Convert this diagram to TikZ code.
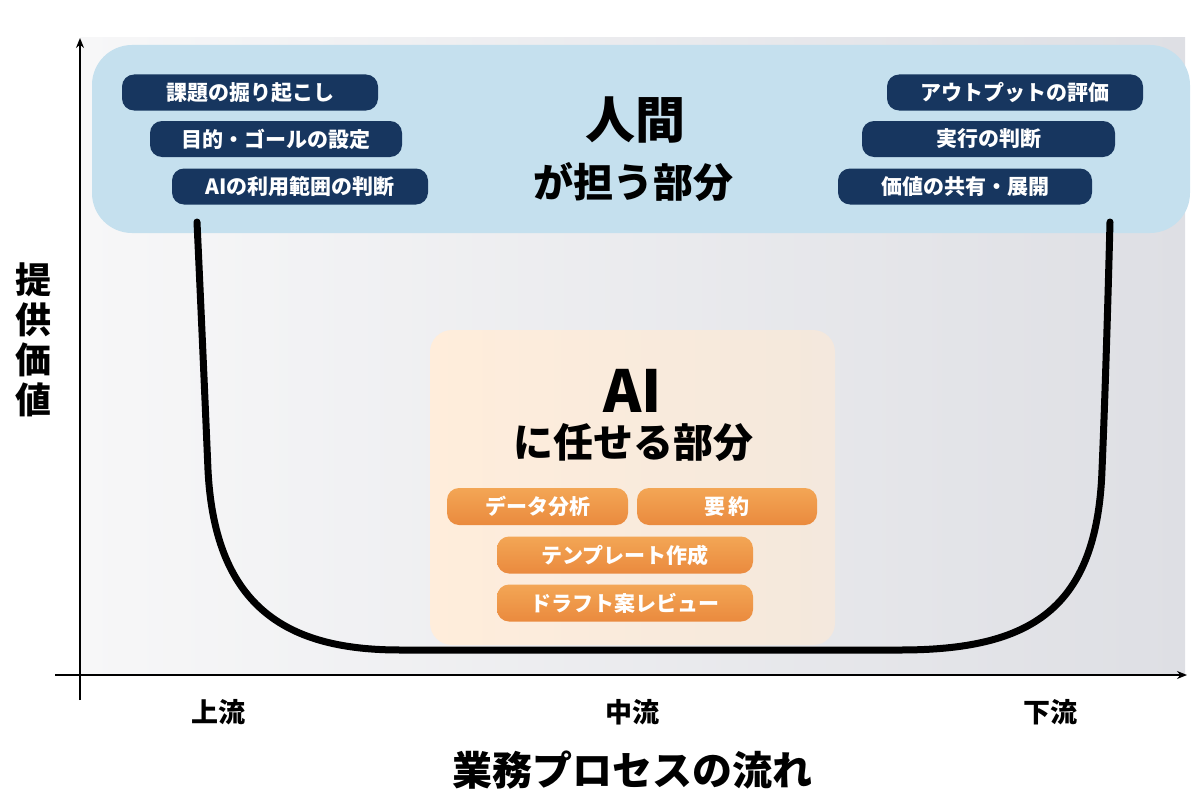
\documentclass[tikz,border=0pt]{standalone}
\usepackage{fontspec}
\setmainfont{Noto Sans CJK JP}
\usetikzlibrary{arrows.meta}
\definecolor{navy}{HTML}{17365F}
\definecolor{skyb}{HTML}{C5E0EE}
\definecolor{otop}{HTML}{F3A655}
\definecolor{obot}{HTML}{EA8A3E}
\definecolor{bgl}{HTML}{F7F7F8}
\definecolor{bgr}{HTML}{DEDFE4}
\tikzset{
 dpill/.style={fill=navy,text=white,rounded corners=12pt,minimum height=36pt,font=\bfseries\fontsize{21}{21}\selectfont,inner sep=0pt},
 opill/.style={top color=otop,bottom color=obot,text=white,rounded corners=12pt,minimum height=37pt,font=\bfseries\fontsize{21}{21}\selectfont,inner sep=0pt},
 axlab/.style={font=\bfseries\fontsize{27}{27}\selectfont}
}
\begin{document}
\begin{tikzpicture}[x=1pt,y=-1pt]
\useasboundingbox (0,0) rectangle (1200,800);
\shade[left color=bgl,right color=bgr] (80,38) rectangle (1185,675);
\fill[skyb,rounded corners=40pt] (92,45) rectangle (1190,233);
\node[dpill,minimum width=256pt] (h1) at (250,92.5) {課題の掘り起こし};
\node[dpill,minimum width=252pt] (h2) at (276,139) {目的・ゴールの設定};
\node[dpill,minimum width=256pt] (h3) at (300,186.5) {AIの利用範囲の判断};
\node[dpill,minimum width=256pt] (h4) at (1015,92.5) {アウトプットの評価};
\node[dpill,minimum width=253pt] (h5) at (988.5,139) {実行の判断};
\node[dpill,minimum width=254pt] (h6) at (965,186.5) {価値の共有・展開};
\node[font=\bfseries\fontsize{50}{50}\selectfont] (hum) at (635,120) {人間};
\node[font=\bfseries\fontsize{40}{40}\selectfont] (hum2) at (633,182) {が担う部分};
\shade[left color=orange!14!white,right color=brown!18!white,rounded corners=22pt] (430,330) rectangle (835,645);
\node[font=\bfseries\fontsize{58}{58}\selectfont] (ai) at (633,391) {AI};
\node[font=\bfseries\fontsize{40}{40}\selectfont] (ai2) at (633,443) {に任せる部分};
\node[opill,minimum width=181pt] (o1) at (537.5,506.5) {データ分析};
\node[opill,minimum width=180pt] (o2) at (727,506.5) {要\,約};
\node[opill,minimum width=256pt] (o3) at (625,555) {テンプレート作成};
\node[opill,minimum width=256pt] (o4) at (625,603) {ドラフト案レビュー};
\draw[line width=7pt,line cap=round] (197,222) .. controls (202,330) and (205,400) .. (208,470)
  .. controls (215,610) and (290,650) .. (400,650) -- (900,650)
  .. controls (1030,650) and (1097,610) .. (1102,470)
  .. controls (1105,400) and (1108,300) .. (1110,222);
\draw[line width=1.6pt,-{Stealth[length=10pt,width=8pt]}] (80,700) -- (80,38);
\draw[line width=1.6pt,-{Stealth[length=10pt,width=8pt]}] (55,675) -- (1187,675);
\node[axlab] (l1) at (218,712) {上流};
\node[axlab] (l2) at (632,712) {中流};
\node[axlab] (l3) at (1050,712) {下流};
\node[font=\bfseries\fontsize{40}{40}\selectfont] (xt) at (632,770) {業務プロセスの流れ};
\node[font=\bfseries\fontsize{36}{40}\selectfont,align=center] (yt) at (33,340) {提\\供\\価\\値};
\end{tikzpicture}
\end{document}
